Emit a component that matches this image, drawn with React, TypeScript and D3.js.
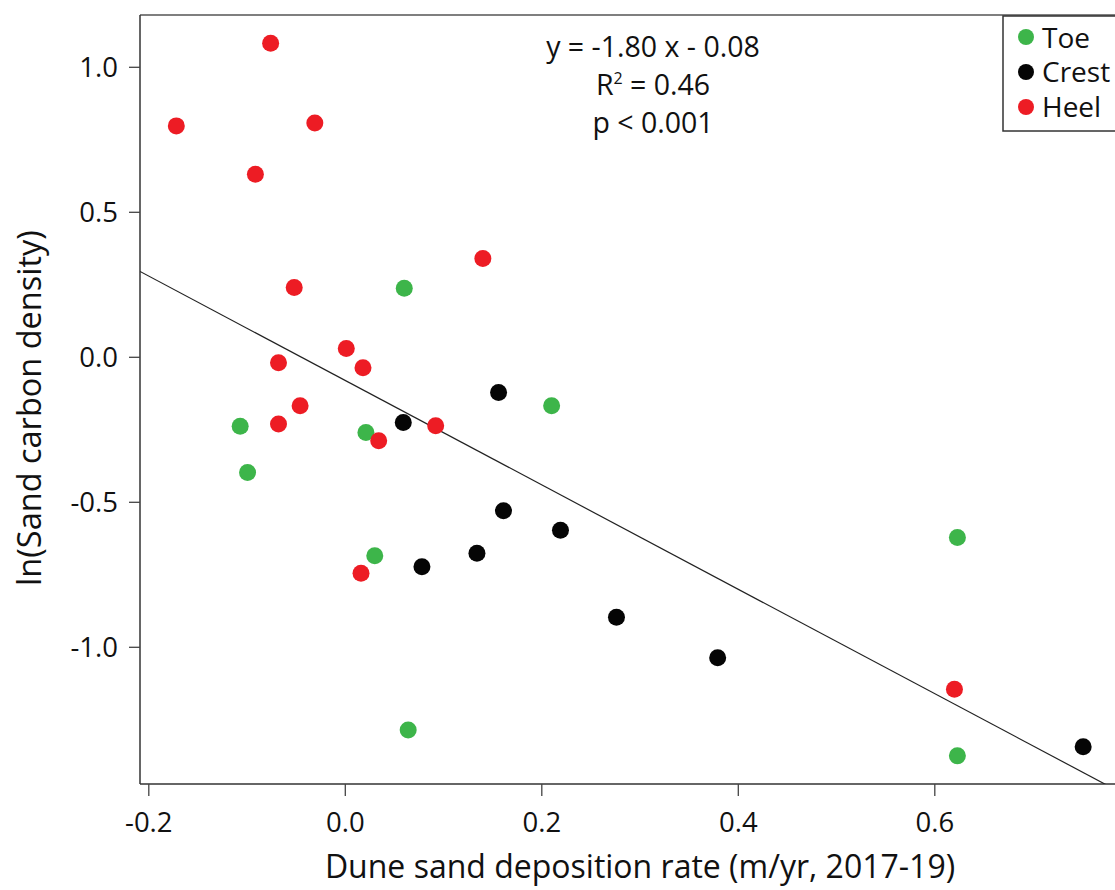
import React from "react";
import * as d3 from "d3";

const toeX = [0.060, -0.107, 0.021, 0.210, -0.0995, 0.030, 0.064, 0.623, 0.623];
const toeY = [0.238, -0.238, -0.259, -0.167, -0.397, -0.684, -1.285, -0.621, -1.374];
const crestX = [0.156, 0.059, 0.161, 0.219, 0.134, 0.078, 0.276, 0.379, 0.751];
const crestY = [-0.121, -0.225, -0.529, -0.596, -0.676, -0.722, -0.896, -1.036, -1.343];
const heelX = [-0.076, -0.172, -0.031, -0.0915, 0.140, -0.052, 0.001, -0.068, 0.018, -0.046, -0.068, 0.092, 0.034, 0.016, 0.620];
const heelY = [1.083, 0.798, 0.808, 0.631, 0.341, 0.241, 0.030, -0.019, -0.036, -0.167, -0.230, -0.236, -0.288, -0.745, -1.145];

const xTicks = [-0.2, 0.0, 0.2, 0.4, 0.6];
const yTicks = [1.0, 0.5, 0.0, -0.5, -1.0];
const seriesNames = ["Toe", "Crest", "Heel"];
const seriesColors = ["#3db54a", "#050505", "#ed1c24"];
const slope = -1.8;
const intercept = -0.08;
const statLines = ["y = -1.80 x - 0.08", "R² = 0.46", "p < 0.001"];

const FONT = "'Open Sans', 'Liberation Sans', sans-serif";

export default function App() {
  const W = 1115, H = 890;
  const left = 140, right = 1125, top = 15, bottom = 784;
  const x = d3.scaleLinear().domain([-0.2, 0.6]).range([148.8, 934.8]);
  const y = d3.scaleLinear().domain([-1.0, 1.0]).range([647.3, 67.3]);

  const series = [
    { name: seriesNames[0], color: seriesColors[0], xs: toeX, ys: toeY },
    { name: seriesNames[1], color: seriesColors[1], xs: crestX, ys: crestY },
    { name: seriesNames[2], color: seriesColors[2], xs: heelX, ys: heelY },
  ];

  const x0 = x.invert(left);
  const x1 = x.invert(right);
  const line = d3.line<number>().x((d) => x(d)).y((d) => y(slope * d + intercept));
  const f1 = d3.format(".1f");
  const fmt = (t: number) => (Math.abs(t) < 1e-9 ? "0.0" : f1(t).replace("\u2212", "-"));

  return (
    <svg width={W} height={H} style={{ position: "absolute", left: 0, top: 0, background: "#fff" }} fontFamily={FONT}>
      <defs>
        <clipPath id="plotclip">
          <rect x={left} y={top} width={right - left} height={bottom - top} />
        </clipPath>
      </defs>
      {/* frame */}
      <line x1={left} y1={top} x2={W} y2={top} stroke="#555" strokeWidth={1.5} />
      <line x1={left} y1={top} x2={left} y2={bottom} stroke="#333" strokeWidth={1.5} />
      <line x1={left} y1={bottom} x2={W} y2={bottom} stroke="#333" strokeWidth={1.5} />
      {/* ticks */}
      {xTicks.map((t) => (
        <g key={"x" + t}>
          <line x1={x(t)} x2={x(t)} y1={bottom} y2={bottom + 12} stroke="#444" strokeWidth={1.3} />
          <text x={x(t)} y={832} textAnchor="middle" fontSize={27.5} fill="#111">
            {fmt(t)}
          </text>
        </g>
      ))}
      {yTicks.map((t) => (
        <g key={"y" + t}>
          <line x1={left - 11} x2={left} y1={y(t)} y2={y(t)} stroke="#444" strokeWidth={1.3} />
          <text x={118} y={y(t) + 10} textAnchor="end" fontSize={27.5} fill="#111">
            {fmt(t)}
          </text>
        </g>
      ))}
      {/* axis titles */}
      <text x={640} y={878} textAnchor="middle" fontSize={32} fill="#111">
        Dune sand deposition rate (m/yr, 2017-19)
      </text>
      <text transform={`translate(41,408) rotate(-90)`} textAnchor="middle" fontSize={32.5} fill="#111">
        ln(Sand carbon density)
      </text>
      {/* regression */}
      <path d={line([x0, x1]) || ""} fill="none" stroke="#222" strokeWidth={1.2} clipPath="url(#plotclip)" />
      {/* points */}
      {series.map((s) =>
        s.xs.map((v, i) => (
          <circle key={s.name + i} cx={x(v)} cy={y(s.ys[i])} r={8.5} fill={s.color} />
        ))
      )}
      {/* stats */}
      <text x={653} y={57} textAnchor="middle" fontSize={28.5} fill="#111">{statLines[0]}</text>
      <text x={653} y={95} textAnchor="middle" fontSize={28.5} fill="#111">
        R<tspan dy={-11} fontSize={16}>2</tspan><tspan dy={11}> = 0.46</tspan>
      </text>
      <text x={653} y={133} textAnchor="middle" fontSize={28.5} fill="#111">{statLines[2]}</text>
      {/* legend */}
      <rect x={1003} y={16} width={130} height={115} fill="#fff" stroke="#333" strokeWidth={1.5} />
      {series.map((s, i) => (
        <g key={"leg" + s.name}>
          <circle cx={1026} cy={37 + i * 35} r={8} fill={s.color} />
          <text x={1042} y={48 + i * 34.3} fontSize={28} fill="#111">{s.name}</text>
        </g>
      ))}
    </svg>
  );
}
